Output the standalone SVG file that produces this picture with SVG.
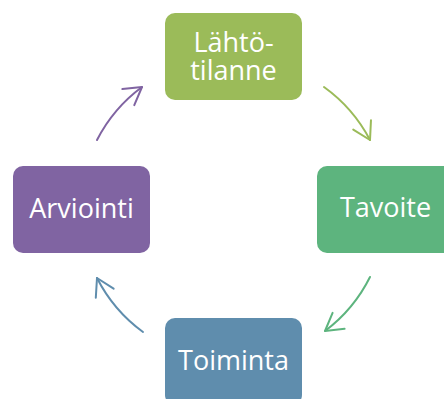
<svg xmlns="http://www.w3.org/2000/svg" width="444" height="399" viewBox="0 0 444 399">
  <style>
    .box { stroke: none; }
    .label { font-family: "Open Sans", "Noto Sans", "Liberation Sans", sans-serif; font-size: 27px; fill: #ffffff; text-anchor: middle; }
    .arc { fill: none; stroke-width: 2; stroke-linecap: round; }
  </style>
  <defs>
    <marker id="head-green" markerUnits="userSpaceOnUse" markerWidth="24" markerHeight="24" viewBox="-20 -12 24 24" refX="0" refY="0" orient="auto" overflow="visible">
      <path d="M-17,-10 L0,0 L-17,10" fill="none" stroke="#9bbb59" stroke-width="2" stroke-linecap="round" stroke-linejoin="round"/>
    </marker>
    <marker id="head-teal" markerUnits="userSpaceOnUse" markerWidth="24" markerHeight="24" viewBox="-20 -12 24 24" refX="0" refY="0" orient="auto" overflow="visible">
      <path d="M-17,-10 L0,0 L-17,10" fill="none" stroke="#5db47e" stroke-width="2" stroke-linecap="round" stroke-linejoin="round"/>
    </marker>
    <marker id="head-blue" markerUnits="userSpaceOnUse" markerWidth="24" markerHeight="24" viewBox="-20 -12 24 24" refX="0" refY="0" orient="auto" overflow="visible">
      <path d="M-17,-10 L0,0 L-17,10" fill="none" stroke="#5f8dad" stroke-width="2" stroke-linecap="round" stroke-linejoin="round"/>
    </marker>
    <marker id="head-purple" markerUnits="userSpaceOnUse" markerWidth="24" markerHeight="24" viewBox="-20 -12 24 24" refX="0" refY="0" orient="auto" overflow="visible">
      <path d="M-17,-10 L0,0 L-17,10" fill="none" stroke="#8064a2" stroke-width="2" stroke-linecap="round" stroke-linejoin="round"/>
    </marker>
  </defs>

  <rect width="444" height="399" fill="#ffffff"/>

  <!-- clockwise connectors on a circle around (233.5, 209.5) -->
  <g id="connectors">
    <path class="arc" stroke="#9bbb59" d="M324,87 A152.5,152.5 0 0 1 370,140" marker-end="url(#head-green)"/>
    <path class="arc" stroke="#5db47e" d="M370,277 A152.5,152.5 0 0 1 325,331" marker-end="url(#head-teal)"/>
    <path class="arc" stroke="#5f8dad" d="M143,332 A152.5,152.5 0 0 1 97,278" marker-end="url(#head-blue)"/>
    <path class="arc" stroke="#8064a2" d="M97,140 A152.5,152.5 0 0 1 142,87" marker-end="url(#head-purple)"/>
  </g>

  <g id="lahtotilanne">
    <rect class="box" x="165" y="13" width="137" height="87" rx="10" fill="#9bbb59"/>
    <text class="label" x="233.5" y="52">Lähtö-</text>
    <text class="label" x="233.5" y="80">tilanne</text>
  </g>

  <g id="tavoite">
    <rect class="box" x="317" y="166" width="137" height="87" rx="10" fill="#5db47e"/>
    <text class="label" x="385.5" y="217">Tavoite</text>
  </g>

  <g id="toiminta">
    <rect class="box" x="165" y="318" width="137" height="87" rx="10" fill="#5f8dad"/>
    <text class="label" x="233.5" y="370">Toiminta</text>
  </g>

  <g id="arviointi">
    <rect class="box" x="13" y="166" width="137" height="87" rx="10" fill="#8064a2"/>
    <text class="label" x="81.5" y="218">Arviointi</text>
  </g>
</svg>
